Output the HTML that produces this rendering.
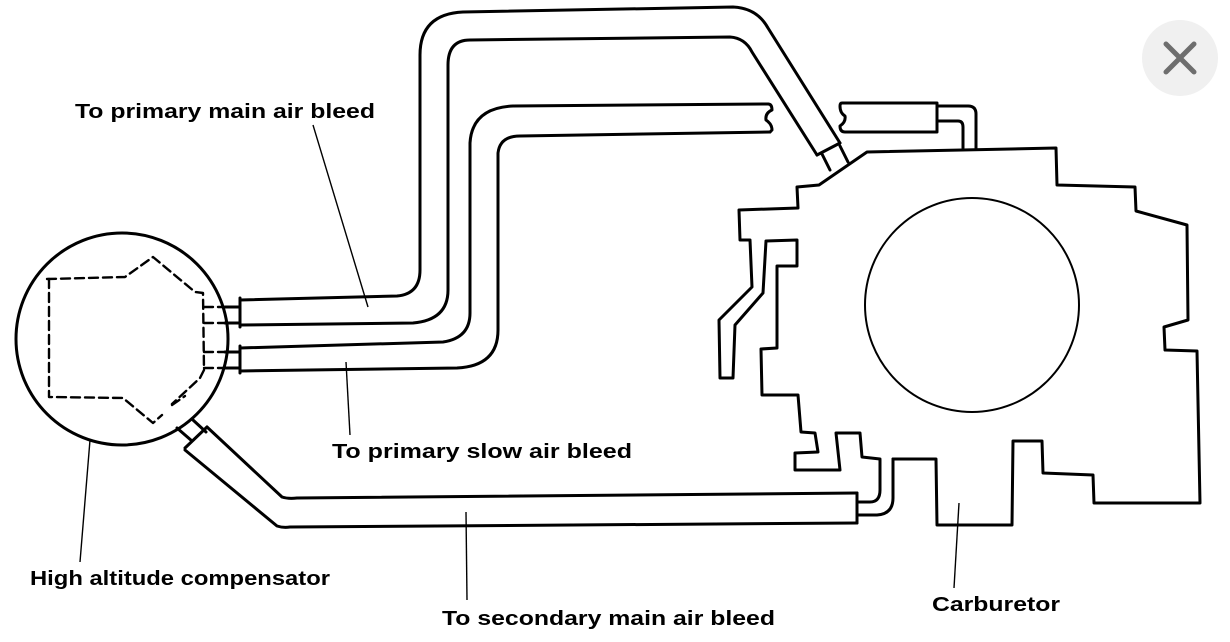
<!DOCTYPE html>
<html><head><meta charset="utf-8"><style>
html,body{margin:0;padding:0;background:#fff;}
svg{display:block;}
text{font-family:"Liberation Sans",Arial,sans-serif;font-weight:bold;font-size:20px;fill:#000;}
</style></head><body>
<svg width="1230" height="642" viewBox="0 0 1230 642" xmlns="http://www.w3.org/2000/svg">
<g fill="none" stroke="#000" stroke-width="3" stroke-linejoin="round" stroke-linecap="round">
<!-- compensator circle -->
<circle cx="122" cy="339" r="106"/>
<g stroke-dasharray="9,5" stroke-width="2.4">
<path d="M47,279 L125,277 L153,257 L195,292 L203,293 L204,370 L200,378 L172,404"/>
<path d="M49,279 L49,397 L123,398 L153,423 L162,415"/>
<path d="M204,307 H228 M204,323 H228 M204,352 H228 M204,368 H228"/>
<path d="M172,405 L185,396"/>
</g>
<!-- small connectors -->
<path d="M225,307 H240 M225,323 H240 M225,352 H240 M225,368 H240"/>
<path d="M177,428 L192,441 M193,420 L206,432"/>
<!-- tube 1 (outer loop to carb) -->
<path d="M240,298 V327"/>
<path d="M240,300 L397,296 Q420,294 420,270 L420,55 Q420,14 463,12 L733,7 Q757,8 768,28 L840,143"/>
<path d="M240,325 L413,323 Q448,320 448,290 L448,65 Q448,40 470,40 L730,37 Q745,38 752,52 L817,155"/>
<path d="M817,155 L840,143 M822,154 L830,170 M840,146 L848,162"/>
<!-- tube 2 -->
<path d="M240,346 V373"/>
<path d="M240,348 L443,342 Q470,338 470,313 L470,143 Q472,108 513,106 L768,104"/>
<path d="M240,371 L457,368 Q498,366 498,330 L498,153 Q500,136 520,136 L770,132"/>
<path d="M768,104 Q772,104 772,110 Q765,113 766,120 Q772,124 772,130 L770,132"/>
<!-- tube 3 -->
<path d="M185,448 L207,427"/>
<path d="M207,427 L282,497 Q288,499 297,498 L857,493"/>
<path d="M185,450 L277,526 Q283,528 290,527 L857,523"/>
<path d="M857,493 V523"/>
<path d="M857,502 H870 Q880,502 880,490 V460"/>
<path d="M857,515 H877 Q893,514 893,498 V459"/>
<!-- top-right small tube -->
<path d="M842,103 L937,103 L937,132 L845,132 Q840,132 840,126 Q846,122 845,116 Q840,113 840,106 Q840,103 842,103 Z"/>
<path d="M937,106 H968 Q976,106 976,114 V148"/>
<path d="M937,121 H958 Q963,121 963,127 V148"/>
<!-- carburetor body -->
<path d="M880,459 L862,457 L860,433 L836,433 L840,470 L795,470 L795,453 L818,452 L815,433 L801,432 L798,395 L762,395 L761,349 L777,348 L777,266 L797,266 L797,240 L766,241 L763,293 L735,325 L733,378 L720,378 L719,320 L752,287 L750,240 L740,240 L739,210 L798,208 L797,187 L819,185 L867,152 L1056,148 L1057,185 L1135,187 L1136,211 L1187,225 L1188,320 L1164,327 L1165,350 L1197,351 L1200,503 L1094,503 L1093,475 L1043,473 L1042,441 L1013,441 L1012,525 L937,525 L936,459 L893,459"/>
<circle cx="972" cy="305" r="107" stroke-width="2"/>
</g>
<!-- leaders -->
<g stroke="#000" stroke-width="1.4" fill="none">
<line x1="313" y1="125" x2="368" y2="307"/>
<line x1="346" y1="362" x2="350" y2="435"/>
<line x1="90" y1="440" x2="80" y2="562"/>
<line x1="466" y1="512" x2="467" y2="600"/>
<line x1="959" y1="503" x2="954" y2="588"/>
</g>
<text x="75" y="118" textLength="300" lengthAdjust="spacingAndGlyphs">To primary main air bleed</text>
<text x="332" y="458" textLength="300" lengthAdjust="spacingAndGlyphs">To primary slow air bleed</text>
<text x="30" y="585" textLength="300" lengthAdjust="spacingAndGlyphs">High altitude compensator</text>
<text x="442" y="625" textLength="333" lengthAdjust="spacingAndGlyphs">To secondary main air bleed</text>
<text x="932" y="611" textLength="128" lengthAdjust="spacingAndGlyphs">Carburetor</text>
<!-- close button -->
<circle cx="1180" cy="58" r="38" fill="#f0f0f0"/>
<path d="M1166,44 L1194,72 M1194,44 L1166,72" stroke="#6e6e6e" stroke-width="5" stroke-linecap="round"/>
</svg>
</body></html>
